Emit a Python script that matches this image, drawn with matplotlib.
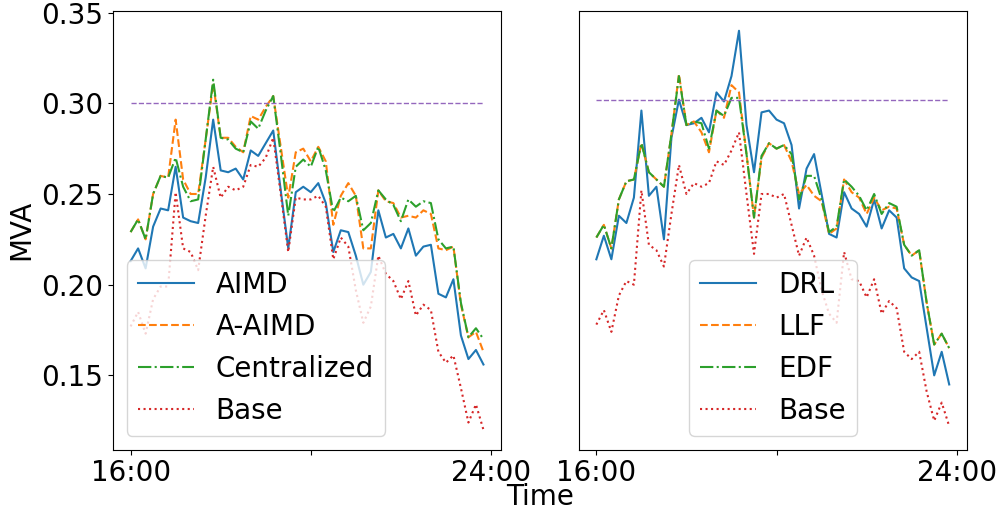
import numpy as np
from matplotlib import pyplot as plt

plt.rcParams['font.size'] = 20

# 10-minute steps from 16:00 to 23:50
hours = 16 + np.arange(48) / 6

# left panel
aimd = [0.213,0.220,0.209,0.232,0.242,0.241,0.265,0.237,0.235,0.234,
        0.259,0.291,0.263,0.262,0.264,0.258,0.274,0.271,0.278,0.285,
        0.252,0.220,0.251,0.254,0.251,0.256,0.245,0.218,0.230,0.229,
        0.216,0.200,0.207,0.241,0.226,0.228,0.220,0.231,0.216,0.221,
        0.222,0.195,0.193,0.203,0.172,0.159,0.164,0.156]
a_aimd = [0.229,0.236,0.225,0.250,0.260,0.259,0.291,0.258,0.250,0.250,
          0.280,0.311,0.281,0.281,0.276,0.273,0.293,0.291,0.298,0.304,
          0.276,0.248,0.273,0.275,0.268,0.276,0.268,0.233,0.249,0.256,
          0.249,0.220,0.220,0.252,0.246,0.245,0.237,0.238,0.237,0.241,
          0.239,0.220,0.219,0.221,0.189,0.171,0.174,0.163]
centralized = [0.229,0.236,0.225,0.250,0.260,0.259,0.270,0.254,0.246,0.247,
               0.280,0.313,0.281,0.280,0.275,0.273,0.290,0.286,0.296,0.304,
               0.272,0.238,0.265,0.269,0.265,0.276,0.263,0.240,0.248,0.246,
               0.249,0.230,0.234,0.252,0.247,0.244,0.235,0.247,0.243,0.246,
               0.245,0.225,0.220,0.221,0.190,0.171,0.176,0.170]
base_left = [0.177,0.185,0.173,0.192,0.199,0.199,0.251,0.220,0.218,0.208,
             0.238,0.265,0.248,0.254,0.252,0.254,0.266,0.265,0.270,0.281,
             0.250,0.218,0.248,0.247,0.247,0.249,0.243,0.214,0.226,0.221,
             0.197,0.179,0.188,0.216,0.206,0.202,0.192,0.202,0.183,0.189,
             0.186,0.163,0.157,0.161,0.143,0.124,0.134,0.120]
limit_left = 0.300

# right panel
drl = [0.214,0.227,0.214,0.238,0.234,0.248,0.296,0.249,0.254,0.225,
       0.281,0.302,0.288,0.289,0.292,0.284,0.306,0.301,0.315,0.340,
       0.288,0.262,0.295,0.296,0.291,0.289,0.277,0.242,0.264,0.272,
       0.250,0.228,0.226,0.251,0.242,0.239,0.232,0.247,0.231,0.241,
       0.237,0.209,0.204,0.202,0.176,0.150,0.163,0.145]
llf = [0.226,0.233,0.220,0.247,0.257,0.258,0.278,0.262,0.258,0.254,
       0.283,0.316,0.288,0.290,0.284,0.273,0.296,0.292,0.310,0.306,
       0.272,0.237,0.270,0.278,0.275,0.277,0.268,0.250,0.255,0.249,
       0.246,0.228,0.231,0.258,0.251,0.248,0.239,0.248,0.241,0.243,
       0.242,0.222,0.216,0.219,0.190,0.167,0.173,0.165]
edf = [0.226,0.233,0.220,0.247,0.257,0.258,0.278,0.262,0.258,0.254,
       0.283,0.315,0.288,0.290,0.289,0.275,0.296,0.293,0.303,0.303,
       0.272,0.237,0.271,0.278,0.275,0.277,0.272,0.247,0.260,0.260,
       0.247,0.229,0.232,0.258,0.254,0.249,0.241,0.250,0.239,0.245,
       0.243,0.222,0.216,0.219,0.190,0.167,0.173,0.165]
base_right = [0.178,0.186,0.174,0.194,0.202,0.200,0.252,0.222,0.219,0.210,
              0.239,0.266,0.250,0.256,0.254,0.256,0.268,0.266,0.274,0.284,
              0.250,0.217,0.250,0.250,0.248,0.250,0.233,0.216,0.226,0.216,
              0.197,0.184,0.179,0.218,0.203,0.202,0.193,0.203,0.184,0.191,
              0.187,0.163,0.159,0.163,0.141,0.125,0.135,0.122]
limit_right = 0.302

fig, (ax1, ax2) = plt.subplots(1, 2, sharey=True, figsize=(10.04, 5.14))
fig.subplots_adjust(left=0.1125, right=0.963, top=0.979, bottom=0.125, wspace=0.2)

ax1.plot(hours, aimd, '-', label='AIMD')
ax1.plot(hours, a_aimd, '--', label='A-AIMD')
ax1.plot(hours, centralized, '-.', label='Centralized')
ax1.plot(hours, base_left, ':', label='Base')
ax1.plot(hours, [limit_left] * len(hours), '--', color='tab:purple', linewidth=1)
ax1.legend(loc='lower left')
ax1.set_ylabel('MVA')

ax2.plot(hours, drl, '-', label='DRL')
ax2.plot(hours, llf, '--', label='LLF')
ax2.plot(hours, edf, '-.', label='EDF')
ax2.plot(hours, base_right, ':', label='Base')
ax2.plot(hours, [limit_right] * len(hours), '--', color='tab:purple', linewidth=1)
ax2.legend(loc='lower center')
ax2.tick_params(left=False)

for ax in (ax1, ax2):
    ax.set_xticks([16, 20, 24])
    ax.set_xticklabels(['16:00', '', '24:00'])

fig.text(0.538, 0.033, 'Time', ha='center', va='center')

plt.savefig('out.png', dpi=100)
